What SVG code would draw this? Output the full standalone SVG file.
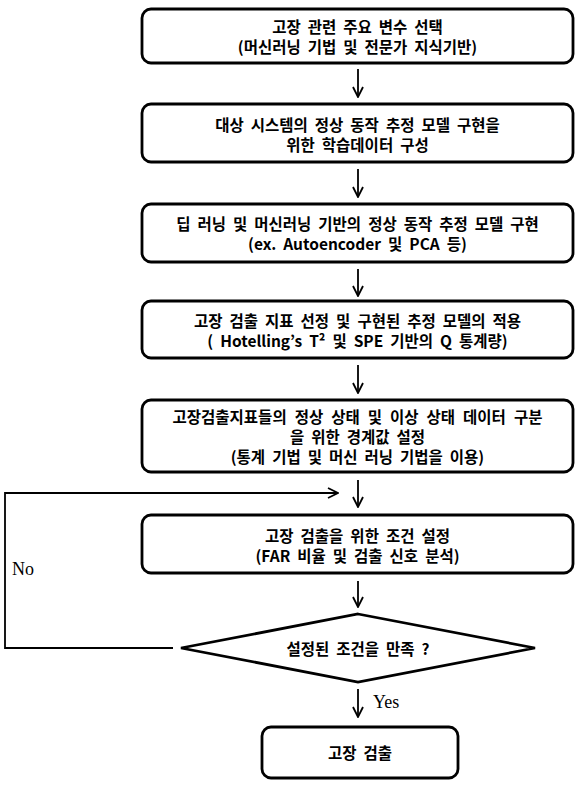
<svg xmlns="http://www.w3.org/2000/svg" width="584" height="786" viewBox="0 0 584 786">
<defs>
<style>
.box{fill:#fff;stroke:#000;stroke-width:2.8}
.t{font-family:"Noto Sans CJK KR","Noto Sans",sans-serif;font-weight:bold;font-size:15.5px;word-spacing:3.5px;fill:#000;text-anchor:middle;dominant-baseline:central}
.lbl{font-family:"Liberation Serif",serif;font-size:18px;fill:#000}
.c{fill:none;stroke:#000;stroke-width:1.8}
</style>
<marker id="ah" viewBox="0 0 12 12" refX="11" refY="6" markerWidth="12" markerHeight="12" markerUnits="userSpaceOnUse" orient="auto">
<path d="M1,1 L11,6 L1,11" fill="none" stroke="#000" stroke-width="1.8"/>
</marker>
</defs>
<rect width="584" height="786" fill="#fff"/>
<g id="connectors">
<line class="c" x1="358" y1="69" x2="358" y2="97" marker-end="url(#ah)"/>
<line class="c" x1="358" y1="169" x2="358" y2="197" marker-end="url(#ah)"/>
<line class="c" x1="358" y1="269" x2="358" y2="296" marker-end="url(#ah)"/>
<line class="c" x1="358" y1="365" x2="358" y2="393" marker-end="url(#ah)"/>
<line class="c" x1="358" y1="480" x2="358" y2="507" marker-end="url(#ah)"/>
<line class="c" x1="358" y1="581" x2="358" y2="607" marker-end="url(#ah)"/>
<line class="c" x1="358" y1="689" x2="358" y2="717" marker-end="url(#ah)"/>
<path class="c" d="M173,648 H5 V493 H338" marker-end="url(#ah)"/>
<text class="lbl" x="12" y="575">No</text>
<text class="lbl" x="373" y="708">Yes</text>
</g>
<g id="n1">
<rect class="box" x="142" y="9" width="431" height="54" rx="9"/>
<text class="t" x="357.5" y="26">고장 관련 주요 변수 선택</text>
<text class="t" x="357.5" y="46">(머신러닝 기법 및 전문가 지식기반)</text>
</g>
<g id="n2">
<rect class="box" x="142" y="104" width="431" height="58" rx="9"/>
<text class="t" x="357.5" y="124">대상 시스템의 정상 동작 추정 모델 구현을</text>
<text class="t" x="357.5" y="144">위한 학습데이터 구성</text>
</g>
<g id="n3">
<rect class="box" x="142" y="204" width="431" height="58" rx="9"/>
<text class="t" x="357.5" y="223">딥 러닝 및 머신러닝 기반의 정상 동작 추정 모델 구현</text>
<text class="t" x="357.5" y="243">(ex. Autoencoder 및 PCA 등)</text>
</g>
<g id="n4">
<rect class="box" x="142" y="301" width="431" height="57" rx="9"/>
<text class="t" x="357.5" y="320">고장 검출 지표 선정 및 구현된 추정 모델의 적용</text>
<text class="t" x="357.5" y="340">( Hotelling’s T² 및 SPE 기반의 Q 통계량)</text>
</g>
<g id="n5">
<rect class="box" x="142" y="400" width="431" height="72" rx="9"/>
<text class="t" x="357.5" y="416" style="word-spacing:4.5px">고장검출지표들의  정상 상태 및 이상 상태 데이터 구분</text>
<text class="t" x="357.5" y="436">을 위한 경계값 설정</text>
<text class="t" x="357.5" y="456">(통계 기법 및 머신 러닝 기법을 이용)</text>
</g>
<g id="n6">
<rect class="box" x="142" y="515" width="431" height="58" rx="9"/>
<text class="t" x="357.5" y="535">고장 검출을 위한 조건 설정</text>
<text class="t" x="357.5" y="555">(FAR 비율 및 검출 신호 분석)</text>
</g>
<g id="n7">
<polygon class="box" points="358,614 535,648 358,682 181,648" stroke-linejoin="miter"/>
<text class="t" x="358" y="648">설정된 조건을 만족 ?</text>
</g>
<g id="n8">
<rect class="box" x="262" y="727" width="196" height="51" rx="9"/>
<text class="t" x="360" y="752">고장 검출</text>
</g>
</svg>
